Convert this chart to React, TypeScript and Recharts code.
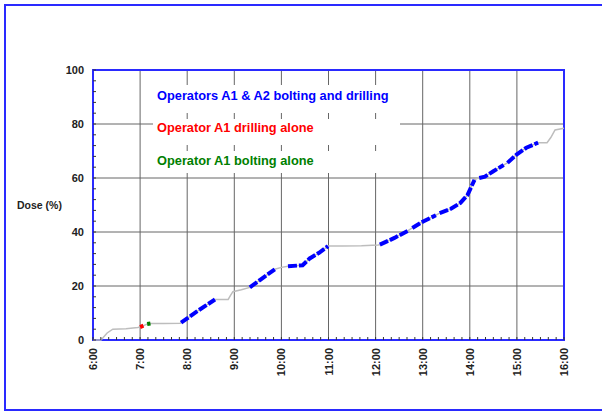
import React from "react";
import {
  LineChart,
  Line,
  XAxis,
  YAxis,
  CartesianGrid,
  ReferenceArea,
} from "recharts";

// time of day (hours), cumulative dose (%) and what was going on at that moment
const hours = [
  6.0, 6.17, 6.3, 6.42, 6.7, 6.95, 7.0, 7.07, 7.11, 7.15, 7.22, 7.5, 7.85, 7.87,
  8.0, 8.2, 8.4, 8.59, 8.7, 8.87, 8.92, 8.97, 9.15, 9.33, 9.55, 9.86, 10.0,
  10.14, 10.45, 10.6, 10.8, 10.99, 11.3, 11.7, 12.05, 12.09, 12.4, 12.69, 12.73,
  12.78, 13.0, 13.28, 13.32, 13.36, 13.6, 13.8, 13.95, 14.1, 14.15, 14.2, 14.32,
  14.5, 14.72, 14.76, 14.8, 15.0, 15.2, 15.45, 15.64, 15.72, 15.81, 16.0,
];
const dose = [
  0, 0, 2.6, 4.0, 4.2, 4.6, 4.8, 5.3, 5.6, 5.9, 6.1, 6.1, 6.2, 6.4,
  8.0, 10.5, 12.8, 15.0, 15.0, 15.0, 16.5, 17.9, 18.6, 19.5, 22.3, 26.2, 26.9,
  27.3, 27.7, 30.2, 32.3, 34.8, 34.8, 34.9, 35.2, 35.3, 37.8, 40.5, 41.0,
  41.5, 43.8, 46.2, 46.6, 47.0, 48.6, 50.8, 53.7, 59.3, 59.8, 60.0, 60.5,
  62.5, 64.8, 65.2, 65.6, 68.8, 71.2, 73.1, 73.1, 75.0, 77.8, 78.4,
];
// "" = none, A = A1 & A2 bolting and drilling, D = A1 drilling, B = A1 bolting
const activity = [
  "", "", "", "", "", "", "D", "D", "", "B", "B", "", "", "A",
  "A", "A", "A", "A", "", "", "", "", "", "A", "A", "A", "",
  "A", "A", "A", "A", "A", "", "", "", "A", "A", "A", "",
  "A", "A", "A", "", "A", "A", "A", "A", "A", "", "A", "A",
  "A", "A", "", "A", "A", "A", "A", "", "", "", "",
];

const hourTicks = [6, 7, 8, 9, 10, 11, 12, 13, 14, 15, 16];
const hourLabels = ["6:00", "7:00", "8:00", "9:00", "10:00", "11:00", "12:00", "13:00", "14:00", "15:00", "16:00"];
const doseTicks = [0, 20, 40, 60, 80, 100];

const legendLabels = [
  "Operators A1 & A2 bolting and drilling",
  "Operator A1 drilling alone",
  "Operator A1 bolting alone",
];
const legendColors = ["#0000ff", "#ff0000", "#008000"];

const FONT = '"Liberation Sans", Arial, sans-serif';
const BLUE = "#2a2aff";

const rows = hours.map((t, i) => ({
  t,
  dose: dose[i],
  both: activity[i] === "A" ? dose[i] : null,
  drill: activity[i] === "D" ? dose[i] : null,
  bolt: activity[i] === "B" ? dose[i] : null,
}));

// minor ticks every 10 minutes / every 4 %
const minorX: number[] = [];
for (let h = 6; h < 16; h++) for (let m = 0; m < 6; m++) minorX.push(h + m / 6);
minorX.push(16);
const minorY: number[] = [];
for (let v = 0; v <= 100; v += 4) minorY.push(v);

function XTick(props: any) {
  const { x, y, payload } = props;
  const idx = hourTicks.findIndex((h) => Math.abs(h - payload.value) < 1e-6);
  return (
    <g>
      <line x1={x} x2={x} y1={y} y2={y - 3} stroke="#333" />
      {idx >= 0 && (
        <text
          x={x}
          y={y + 8}
          transform={`rotate(-90, ${x}, ${y + 8})`}
          textAnchor="end"
          dominantBaseline="central"
          fontSize={11}
          fontWeight="bold"
          fontFamily={FONT}
          fill="#222"
        >
          {hourLabels[idx]}
        </text>
      )}
    </g>
  );
}

function YTick(props: any) {
  const { x, y, payload } = props;
  const major = payload.value % 20 === 0;
  return (
    <g>
      <line x1={x} x2={x + 3} y1={y} y2={y} stroke="#333" />
      {major && (
        <text
          x={x - 9}
          y={y}
          textAnchor="end"
          dominantBaseline="central"
          fontSize={11}
          fontWeight="bold"
          fontFamily={FONT}
          fill="#222"
        >
          {payload.value}
        </text>
      )}
    </g>
  );
}

export default function App() {
  return (
    <div
      style={{
        position: "fixed",
        left: 0,
        top: 0,
        width: 602,
        height: 412,
        background: "#fff",
        overflow: "hidden",
        fontFamily: FONT,
      }}
    >
      {/* outer frame, open on the right */}
      <div
        style={{
          position: "absolute",
          left: 4,
          top: 4,
          width: 640,
          height: 403,
          border: `2px solid ${BLUE}`,
        }}
      />
      <div style={{ position: "absolute", left: 0, top: 0 }}>
        <LineChart
          width={602}
          height={412}
          data={rows}
          margin={{ top: 70, right: 38, bottom: 0, left: 0 }}
        >
          <CartesianGrid
            stroke="#666"
            verticalValues={hourTicks}
            horizontalValues={doseTicks}
          />
          <XAxis
            type="number"
            dataKey="t"
            domain={[6, 16]}
            ticks={minorX}
            interval={0}
            height={72}
            tickSize={0}
            tickMargin={0}
            axisLine={false}
            tickLine={false}
            tick={<XTick />}
          />
          <YAxis
            type="number"
            domain={[0, 100]}
            ticks={minorY}
            interval={0}
            width={93}
            tickSize={0}
            tickMargin={0}
            axisLine={false}
            tickLine={false}
            tick={<YTick />}
          />
          <Line
            dataKey="dose"
            stroke="#bdbdbd"
            strokeWidth={1.5}
            dot={false}
            isAnimationActive={false}
          />
          <Line
            dataKey="both"
            stroke={legendColors[0]}
            strokeWidth={4}
            strokeDasharray="9 2"
            dot={false}
            connectNulls={false}
            isAnimationActive={false}
          />
          <Line
            dataKey="drill"
            stroke={legendColors[1]}
            strokeWidth={4}
            dot={false}
            connectNulls={false}
            isAnimationActive={false}
          />
          <Line
            dataKey="bolt"
            stroke={legendColors[2]}
            strokeWidth={4}
            dot={false}
            connectNulls={false}
            isAnimationActive={false}
          />
          <ReferenceArea
            x1={6}
            x2={16}
            y1={0}
            y2={100}
            fill="none"
            stroke={BLUE}
            strokeWidth={2}
          />
        </LineChart>
      </div>
      {/* y axis title */}
      <div
        style={{
          position: "absolute",
          left: 17,
          top: 199,
          fontSize: 10.5,
          fontWeight: "bold",
          color: "#222",
        }}
      >
        Dose (%)
      </div>
      {/* in-plot legend on white strips */}
      {legendLabels.map((label, i) => (
        <div
          key={label}
          style={{
            position: "absolute",
            left: 153,
            top: [85, 119, 151][i],
            width: 247,
            height: [28, 26, 22][i],
            background: "#fff",
          }}
        >
          <span
            style={{
              position: "absolute",
              left: 4,
              top: [3, 1, 2][i],
              fontSize: 12.8,
              fontWeight: "bold",
              color: legendColors[i],
              whiteSpace: "nowrap",
            }}
          >
            {label}
          </span>
        </div>
      ))}
    </div>
  );
}
